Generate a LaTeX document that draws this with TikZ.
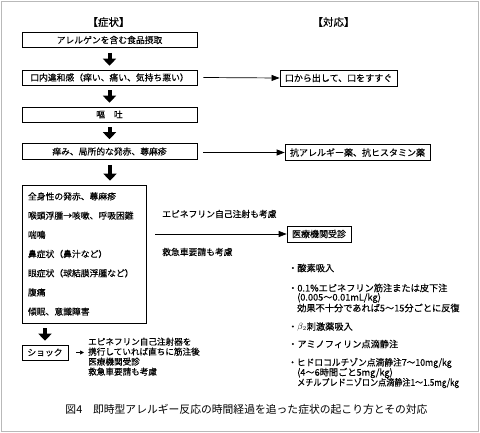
\documentclass[tikz,border=0pt]{standalone}
\usepackage{fontspec}
\usepackage{graphicx}
\setmainfont{Noto Sans CJK JP}[FakeBold=0.25]
\newfontfamily\capfont{Noto Sans CJK JP}
\usetikzlibrary{arrows.meta}
\begin{document}
\begin{tikzpicture}[x=1pt,y=-1pt,
  lbox/.style={draw, line width=0.6pt, minimum width=175pt, minimum height=15pt, inner sep=0pt, font=\fontsize{8.8}{10}\selectfont},
  rbox/.style={draw, line width=0.6pt, minimum height=16pt, inner xsep=5pt, inner ysep=0pt, font=\fontsize{9}{10}\selectfont},
  bigarrow/.style={line width=4pt, -{Triangle[width=13pt,length=7pt]}, shorten >=4pt, shorten <=5pt},
  thinarrow/.style={line width=0.7pt, -{Triangle[width=6pt,length=8pt]}},
  plain/.style={inner sep=0pt, font=\fontsize{8.8}{10}\selectfont},
  item/.style={inner sep=0pt, anchor=west, font=\fontsize{9.2}{10}\selectfont},
  head/.style={inner sep=0pt, font=\fontsize{10.5}{12}\selectfont}
]
\useasboundingbox (0,0) rectangle (480,433);
\draw[gray!55, line width=1pt] (1.5,1.5) rectangle (478.5,431.5);

\node[head] (hs) at (108.5,22) {【症状】};
\node[head] (ht) at (333.5,22) {【対応】};

\node[lbox] (b1) at (109.5,40) {アレルゲンを含む食品摂取};
\node[lbox] (b2) at (109.5,77.5) {口内違和感（痒い、痛い、気持ち悪い）};
\node[lbox] (b3) at (109.5,114.5) {嘔　吐};
\node[lbox, minimum height=16pt] (b4) at (109.5,151.5) {痒み、局所的な発赤、蕁麻疹};

\node[draw, line width=0.6pt, minimum width=124pt, minimum height=138pt, inner xsep=6pt,
      text width=112pt, align=left, font=\fontsize{8.8}{19.2}\selectfont] (big) at (84,254)
  {全身性の発赤、蕁麻疹\\
   喉頭浮腫→咳嗽、呼吸困難\\
   喘鳴\\
   鼻症状（鼻汁など）\\
   眼症状（球結膜浮腫など）\\
   腹痛\\
   傾眠、意識障害};

\node[lbox, minimum width=46pt] (shock) at (45,352.5) {ショック};

\draw[bigarrow] (b1) -- (b2);
\draw[bigarrow] (b2) -- (b3);
\draw[bigarrow] (b3) -- (b4);
\draw[bigarrow] (b4.south -| 110,0) -- (big.north -| 110,0);
\draw[bigarrow] (big.south -| shock.north) -- (shock.north);

\node[rbox] (r1) at (338.5,78) {口から出して、口をすすぐ};
\node[rbox] (r2) at (357.5,152.5) {抗アレルギー薬、抗ヒスタミン薬};
\node[rbox] (r3) at (319,234) {医療機関受診};

\draw[thinarrow] ([xshift=6pt]b2.east) -- (r1.west);
\draw[thinarrow] ([xshift=6pt]b4.east |- r2.west) -- (r2.west);
\draw[thinarrow] ([xshift=9pt]big.east |- r3.west) -- (r3.west);

\node[plain, anchor=west] (epi) at (162,214) {エピネフリン自己注射も考慮};
\node[plain, anchor=west] (kyu) at (162,252) {救急車要請も考慮};

\node[inner sep=0pt, anchor=north west, align=left, font=\fontsize{8.6}{10}\selectfont] (note) at (88,337.5)
  {エピネフリン自己注射器を\\
   携行していれば直ちに筋注後\\
   医療機関受診\\
   救急車要請も考慮};
\draw[line width=0.6pt, -{Triangle[width=4pt,length=4pt]}, shorten <=8pt, shorten >=4pt]
  (shock.east) -- (shock.east -| note.west);

\node[item] (l1) at (288,268) {・酸素吸入};
\node[item] (l2) at (288,288) {・0.1\%エピネフリン筋注または皮下注};
\node[item] (l3) at (297,298) {(0.005〜0.01mL/kg)};
\node[item] (l4) at (297,308) {効果不十分であれば5〜15分ごとに反復};
\node[item] (l5) at (288,327) {・$\beta_2$刺激薬吸入};
\node[item] (l6) at (288,344) {・アミノフィリン点滴静注};
\node[item] (l7) at (288,363) {\scalebox{0.95}[1]{・ヒドロコルチゾン点滴静注7〜10mg/kg}};
\node[item] (l8) at (297,373) {(4〜6時間ごと5mg/kg)};
\node[item] (l9) at (297,383) {\scalebox{0.88}[1]{メチルプレドニゾロン点滴静注1〜1.5mg/kg}};

\node[inner sep=0pt, font=\capfont\fontsize{10.8}{12}\selectfont] (cap) at (246.5,409)
  {図4　即時型アレルギー反応の時間経過を追った症状の起こり方とその対応};
\end{tikzpicture}
\end{document}
